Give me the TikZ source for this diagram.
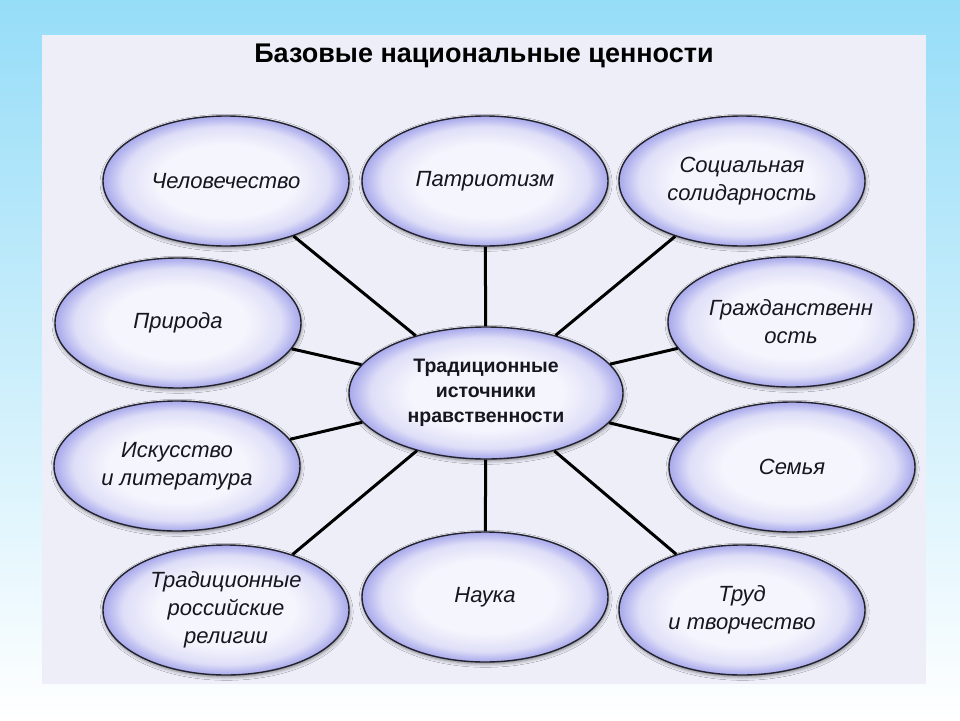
\documentclass[tikz,border=0pt]{standalone}
\usepackage{fontspec}
\setmainfont{Liberation Sans}
\usetikzlibrary{shapes.geometric, shadows.blur}

\definecolor{skytop}{HTML}{96DDF8}
\definecolor{panelbg}{HTML}{EEEEF9}
\definecolor{ovalmid}{HTML}{F5F5FD}
\definecolor{ovalin}{HTML}{DEDEF8}
\definecolor{ovaledge}{HTML}{A8A8EC}
\definecolor{ovalline}{HTML}{23232E}
\definecolor{textcol}{HTML}{16161E}

% border of the path sits at 25bp
\pgfdeclareradialshading{ovalshading}{\pgfpoint{0bp}{0bp}}{%
  color(0bp)=(ovalmid); color(14bp)=(ovalmid); color(21bp)=(ovalin); color(25bp)=(ovaledge); color(50bp)=(ovaledge)}

\tikzset{
  oval/.style={ellipse, draw=ovalline, line width=1.4pt, shading=ovalshading,
    minimum width=246, minimum height=130, inner sep=0pt, align=center,
    text=textcol, font=\itshape\fontsize{22}{28}\selectfont,
    blur shadow={shadow xshift=0.6pt, shadow yshift=-1.8pt, shadow blur radius=3.5pt, shadow opacity=50}},
  hub/.style={oval, minimum width=274, minimum height=132, font=\bfseries\fontsize{19.5}{25}\selectfont},
  link/.style={draw=black, line width=3pt}
}

\begin{document}
\begin{tikzpicture}[x=1pt, y=-1pt]
    \fill[top color=skytop, bottom color=white] (0,0) rectangle (960,720);
    \fill[panelbg] (42,35) rectangle (926,684);

    \node (title) at (484,56) {\bfseries\fontsize{27}{30}\selectfont Базовые национальные ценности};

    \node (hub)   [hub]  at (486,393) {Традиционные\\источники\\нравственности};

    \node (chel)  [oval] at (226,181) {Человечество};
    \node (patr)  [oval] at (485,181) {Патриотизм};
    \node (soc)   [oval] at (742,181) {Социальная\\солидарность};
    \node (prir)  [oval] at (178,323) {Природа};
    \node (grazh) [oval] at (791,322) {Гражданственн\\ость};
    \node (isk)   [oval] at (177,466) {Искусство\\и литература};
    \node (semya) [oval] at (792,467) {Семья};
    \node (relig) [oval] at (226,610) {Традиционные\\российские\\религии};
    \node (nauka) [oval] at (485,597) {Наука};
    \node (trud)  [oval] at (742,610) {Труд\\и творчество};

    \foreach \outer in {chel, patr, soc, prir, grazh, isk, semya, relig, nauka, trud}
        \draw[link] (hub) -- (\outer);
\end{tikzpicture}
\end{document}
